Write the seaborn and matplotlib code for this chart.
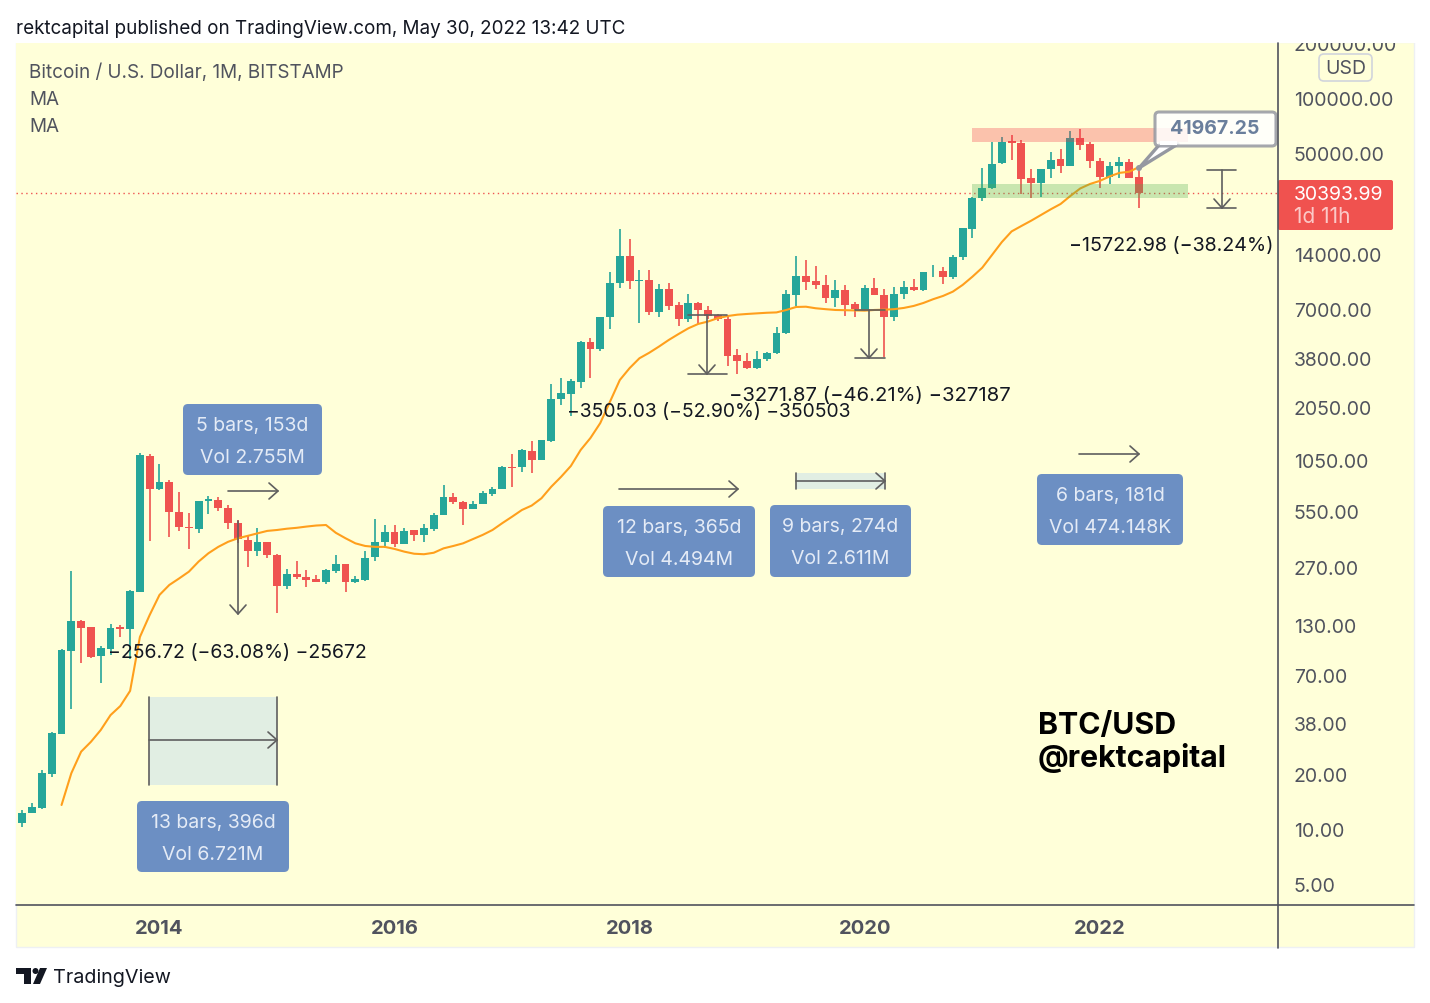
import numpy as np
import pandas as pd
import matplotlib
matplotlib.use("Agg")
import matplotlib.pyplot as plt
import seaborn as sns
from matplotlib.patches import Rectangle, FancyBboxPatch, Polygon, Circle

# monthly candles, Oct 2012 .. May 2022
opens = [12.2, 10.8, 12.3, 13.1, 20, 33.1, 94.6, 138, 127, 88, 96.5, 127, 123.7, 199, 1100,
         722, 790, 546, 448, 441, 625, 632, 571, 473, 383, 333, 371,
         316, 214, 249, 240, 233, 224, 258, 281, 226, 230, 308, 371,
         423, 365, 433, 407, 441, 523, 657, 620, 564, 601, 682, 728,
         962, 954, 1175, 1050, 1324, 2247, 2415, 2796, 4646, 4230, 6318, 9740,
         13680, 9980, 10110, 6755, 9070, 7360, 6200, 7580, 6950, 6490, 6220, 3910,
         3640, 3350, 3730, 4030, 5170, 8370, 10600, 9985, 9500, 8060, 8920, 7430,
         6950, 9150, 8370, 6320, 8450, 9220, 8920, 11280, 11360, 10460, 13500, 19300,
         28530, 32200, 43900, 58000, 56800, 36450, 34200, 40700, 46200, 42500, 60300, 56100,
         45500, 37000, 42300, 44700, 37000]
highs = [12.4, 12.7, 13.8, 20.9, 34, 96.2, 258, 138.5, 128, 100.4, 132.5, 130.8, 203, 1139, 1129,
         991, 813, 701, 538, 625, 666, 653, 595, 491, 407, 445, 374,
         320, 265, 293, 261, 246, 265, 315, 282, 243, 331, 495, 461,
         461, 442, 435, 467, 538, 767, 691, 622, 625, 708, 747, 970,
         1124, 1208, 1329, 1347, 2730, 2929, 2890, 4700, 4895, 6330, 11190, 19230,
         16950, 11460, 11470, 9590, 9790, 7680, 8440, 7680, 7290, 6600, 6440, 4230,
         4040, 4135, 4080, 5590, 8915, 13720, 13010, 12100, 10770, 10170, 9500, 7660,
         9500, 10370, 9070, 9310, 9950, 10240, 11250, 12270, 11890, 13860, 19500, 28900,
         41300, 57700, 61000, 63000, 58900, 40700, 40900, 50900, 52600, 66100, 67900, 57400,
         46900, 45000, 47600, 46500, 41300]
lows = [10.6, 10.3, 12.2, 12.8, 19.3, 33, 45.2, 81.3, 85.8, 62.7, 89.6, 113, 84.8, 198, 379,
        719, 398, 429, 339, 418, 532, 552, 440, 366, 273, 313, 304,
        153, 207, 234, 210, 224, 219, 252, 197, 222, 228, 293, 347,
        350, 362, 379, 374, 429, 520, 601, 461, 562, 598, 665, 725,
        747, 900, 888, 1045, 1320, 2100, 1826, 2580, 2955, 4140, 5480, 9150,
        9070, 5860, 6480, 6340, 6930, 5690, 5960, 5810, 6150, 6030, 3420, 3090,
        3290, 3290, 3620, 4000, 5150, 7290, 8920, 9040, 7580, 7180, 6420, 6340,
        6870, 8330, 3820, 6050, 7970, 8800, 8800, 10460, 9620, 10280, 13010, 17100,
        27510, 32000, 43800, 45900, 29800, 28250, 28800, 36600, 38800, 42300, 52000, 41300,
        32400, 33900, 36600, 36500, 25100]
closes = [10.8, 12.3, 13.15, 20.3, 33.4, 95.4, 138, 126, 87.4, 97.6, 126, 123.7, 200.7, 1114, 723,
          790, 546, 448, 442, 622, 636, 569, 473, 387, 333, 371, 316,
          214, 249, 240, 231, 226, 262, 282, 226, 232, 306, 371, 423,
          363, 429, 405, 442, 523, 657, 617, 564, 601, 690, 728, 954,
          946, 1182, 1050, 1340, 2257, 2424, 2815, 4646, 4230, 6318, 9740, 13680,
          9980, 10080, 6755, 9070, 7320, 6200, 7580, 6920, 6420, 6190, 3890, 3620,
          3340, 3740, 4040, 5185, 8440, 10600, 9860, 9440, 8060, 8920, 7400, 7020,
          9150, 8350, 6320, 8480, 9220, 8950, 11200, 11360, 10500, 13560, 19400, 28530,
          32360, 43700, 57700, 56600, 36200, 34300, 40700, 46000, 42500, 60300, 55400, 45300,
          37000, 42500, 44700, 36700, 30393.99]

# moving average, starts Mar 2013
ma_values = [13.53, 20.2, 26.5, 30.0, 34.8, 42, 47.1, 57, 112.4, 148.4,
             191, 216.5, 235, 256, 291, 323, 350, 373, 390, 402, 415, 428,
             433, 440, 445, 452, 458, 461, 418, 390, 366, 354, 350, 350,
             341, 329.5, 321, 319, 325, 343.5, 354, 366, 386, 407, 433, 472,
             512, 557, 589, 646, 747, 846, 970, 1187, 1380, 1665, 2183, 2867,
             3330, 3770, 4040, 4370, 4750, 5120, 5500, 5810, 5990, 6250, 6420, 6530,
             6590, 6640, 6690, 6720, 6930, 7195, 7220, 7080, 7000, 6930, 6910, 6890,
             6870, 6930, 6955, 7000, 7110, 7290, 7570, 7940, 8270, 8730, 9500, 10540,
             11800, 13860, 16300, 18650, 19970, 21350, 22940, 24650, 26350, 29150, 32030, 33900,
             35240, 37270, 39000, 39550, 41967.25]

price_ticks = [200000, 100000, 50000, 14000, 7000, 3800, 2050, 1050, 550, 270, 130, 70, 38, 20, 10, 5]
year_ticks = [2014, 2016, 2018, 2020, 2022]
last_price = 30393.99

W, H = 1430, 1004
BG = "#FFFFD9"
UP = "#26A69A"
DOWN = "#EF5350"
AXIS = "#50535E"
BLUE = "#6C8FC3"
BOX_TEXT = "#E4EBF6"
GREY = "#5F5F5F"

sns.set_theme(style="white")
plt.rcParams["font.family"] = ["Inter", "DejaVu Sans"]
plt.rcParams["axes.unicode_minus"] = False

df = pd.DataFrame({"open": opens, "high": highs, "low": lows, "close": closes})
df["month"] = np.arange(len(df)) - 15  # 0 is Jan 2014
df["up"] = df["close"] >= df["open"]
ma = pd.DataFrame({"month": df["month"].values[5:], "ma": ma_values})

fig = plt.figure(figsize=(W / 100, H / 100), dpi=100, facecolor="white")

# panel behind everything
fig.patches.append(Rectangle((16 / W, 1 - 948 / H), 1398 / W, 905 / H, transform=fig.transFigure,
                             facecolor=BG, edgecolor="#EEF0F3", linewidth=1, zorder=-1))

# ---------------------------
# PRICE PANE
# ---------------------------
ax = fig.add_axes([16 / W, 1 - 905 / H, 1262 / W, 862 / H], facecolor=BG)
ax.set_yscale("log", base=2)
ax.set_ylim(3.885, 202950)
ax.set_xlim(-14.65, 114.2)

colors = np.where(df["up"], UP, DOWN)
ax.vlines(df["month"], df["low"], df["high"], colors=colors, linewidth=1.2, zorder=2)
ax.bar(df["month"], (df["close"] - df["open"]).abs(), bottom=df[["open", "close"]].min(axis=1),
       width=0.8, color=colors, linewidth=0, zorder=3)
sns.lineplot(data=ma, x="month", y="ma", ax=ax, color="#FF9F1C", linewidth=1.5, zorder=4, legend=False)
ax.axhline(last_price, color=DOWN, linestyle=(0, (1, 2.5)), linewidth=1, zorder=1)

ax.set_xlabel("")
ax.set_ylabel("")
ax.yaxis.tick_right()
ax.set_yticks(price_ticks)
ax.set_yticklabels([f"{p:.2f}" for p in price_ticks], fontsize=14, color=AXIS)
ax.minorticks_off()
ax.tick_params(axis="y", length=0, pad=11.5)
ax.set_xticks([(y - 2014) * 12 for y in year_ticks])
ax.set_xticklabels([str(y) for y in year_ticks], fontsize=14.5, fontweight="bold", color=AXIS)
ax.tick_params(axis="x", length=0, pad=10.5)
for s in ["top", "left", "right", "bottom"]:
    ax.spines[s].set_visible(False)

# ---------------------------
# DRAWINGS (pixel overlay)
# ---------------------------
ov = fig.add_axes([0, 0, 1, 1], facecolor="none", zorder=5)
ov.set_xlim(0, W)
ov.set_ylim(H - 1, -1)
ov.axis("off")

ov.add_patch(Rectangle((0, -1), W, 44, facecolor="white", edgecolor="none"))
ov.plot([16, 1414], [905, 905], color=AXIS, linewidth=1.2)
ov.plot([1278, 1278], [43, 948], color=AXIS, linewidth=1.2)


def txt(x, y, s, size=14, color="#131722", ha="left", **kw):
    ov.text(x, y + 2, s, fontsize=size, color=color, ha=ha, va="center", **kw)


def arrow_right(x0, x1, y):
    ov.plot([x0, x1], [y, y], color=GREY, linewidth=1.2)
    ov.plot([x1 - 9, x1, x1 - 9], [y - 8, y, y + 8], color=GREY, linewidth=1.2)


def arrow_down(x, y0, y1, cap0=None, cap1=None):
    ov.plot([x, x], [y0, y1], color=GREY, linewidth=1.2)
    ov.plot([x - 8, x, x + 8], [y1 - 9, y1, y1 - 9], color=GREY, linewidth=1.2)
    if cap0:
        ov.plot(cap0, [y0, y0], color=GREY, linewidth=1.2)
    if cap1:
        ov.plot(cap1, [y1, y1], color=GREY, linewidth=1.2)


def stat_box(x0, x1, y0, y1, line1, line2):
    ov.add_patch(FancyBboxPatch((x0 + 5, y0 + 5), x1 - x0 - 10, y1 - y0 - 10,
                                boxstyle="round,pad=5,rounding_size=5", facecolor=BLUE, edgecolor="none"))
    xc = (x0 + x1) / 2
    txt(xc, y0 + 19, line1, color=BOX_TEXT, ha="center")
    txt(xc, y0 + 51, line2, color=BOX_TEXT, ha="center")


# support / resistance zones
ov.add_patch(Rectangle((972, 128), 216, 14, facecolor="#F23645", alpha=0.3, edgecolor="none"))
ov.add_patch(Rectangle((972, 184), 216, 14, facecolor="#4CAF50", alpha=0.3, edgecolor="none"))

# date ranges
ov.add_patch(Rectangle((149, 697), 128, 88, facecolor="#E1EEE3", edgecolor="none", zorder=1))
ov.plot([149, 149], [697, 785], color=GREY, linewidth=1.2)
ov.plot([277, 277], [697, 785], color=GREY, linewidth=1.2)
arrow_right(149, 277, 740)
arrow_right(228, 278, 491)
arrow_right(619, 738, 489)
ov.add_patch(Rectangle((796, 473), 89, 16, facecolor="#E1EEE3", edgecolor="none", zorder=1))
ov.plot([796, 796], [473, 489], color=GREY, linewidth=1.2)
ov.plot([885, 885], [473, 489], color=GREY, linewidth=1.2)
arrow_right(796, 885, 481)
arrow_right(1079, 1139, 454)

# price ranges
arrow_down(238, 521, 614)
arrow_down(707, 315, 374, cap0=[688, 727], cap1=[688, 727])
arrow_down(869, 310, 358, cap0=[855, 885], cap1=[855, 885])
arrow_down(1222, 170, 208, cap0=[1207, 1236], cap1=[1207, 1236])

txt(108, 650, "−256.72 (−63.08%) −25672")
txt(567, 409, "−3505.03 (−52.90%) −350503", size=13.9)
txt(729, 393, "−3271.87 (−46.21%) −327187", size=14.6)
txt(1069, 243, "−15722.98 (−38.24%)", size=14.15)

stat_box(183, 322, 404, 475, "5 bars, 153d", "Vol 2.755M")
stat_box(603, 755, 506, 577, "12 bars, 365d", "Vol 4.494M")
stat_box(770, 911, 505, 577, "9 bars, 274d", "Vol 2.611M")
stat_box(1037, 1183, 474, 545, "6 bars, 181d", "Vol 474.148K")
stat_box(137, 289, 801, 872, "13 bars, 396d", "Vol 6.721M")

# callout
ov.add_patch(Polygon([[1139, 168], [1160, 144], [1178, 144]], closed=True, facecolor="white",
                     edgecolor="#9598A1", linewidth=2.4, joinstyle="round"))
ov.add_patch(FancyBboxPatch((1159, 116), 113, 26, boxstyle="round,pad=4,rounding_size=4",
                            facecolor="white", edgecolor="#9598A1", linewidth=2.2, alpha=0.85))
ov.add_patch(Rectangle((1160, 141), 17, 4, facecolor="white", edgecolor="none"))
ov.add_patch(Circle((1139, 168), 3, facecolor="#9598A1", edgecolor="none"))
txt(1215, 126, "41967.25", color="#6A7F9C", ha="center", fontweight="bold")

txt(1038, 723, "BTC/USD", size=21.8, color="black", fontweight="bold")
txt(1038, 755, "@rektcapital", size=21.8, color="black", fontweight="bold")

# legend
txt(29, 70, "Bitcoin / U.S. Dollar, 1M, BITSTAMP", size=13.6, color=AXIS)
txt(29, 97, "MA", size=13.6, color=AXIS)
txt(29, 124, "MA", size=13.6, color=AXIS)

# price axis badges
ov.add_patch(FancyBboxPatch((1323, 58), 45, 19, boxstyle="round,pad=4,rounding_size=5",
                            facecolor=BG, edgecolor="#D1D4DC", linewidth=1.2))
txt(1345.5, 66, "USD", color=AXIS, ha="center")
ov.add_patch(FancyBboxPatch((1280, 182), 111, 46, boxstyle="round,pad=2,rounding_size=2",
                            facecolor="#F0524F", edgecolor="none"))
txt(1294, 192, f"{last_price:.2f}", color="white")
txt(1294, 214, "1d 11h", size=15, color="#FBC9C7")

# header and footer
txt(16, 26, "rektcapital published on TradingView.com, May 30, 2022 13:42 UTC", size=13.55)
ov.add_patch(Polygon([[16, 968], [31, 968], [31, 984], [24, 984], [24, 974], [16, 974]], closed=True,
                     facecolor="#131722", edgecolor="none"))
ov.add_patch(Circle((35.5, 971), 3, facecolor="#131722", edgecolor="none"))
ov.add_patch(Polygon([[40, 968], [47, 968], [40, 984], [33, 984]], closed=True,
                     facecolor="#131722", edgecolor="none"))
txt(53, 975, "TradingView", size=14.2, color="#131722")

plt.savefig("out.png", dpi=100)
plt.close()
print("done")
